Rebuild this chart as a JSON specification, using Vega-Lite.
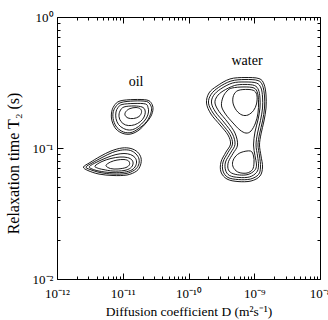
{
"$schema": "https://vega.github.io/schema/vega-lite/v6.json",
"width": 263, "height": 262,
"autosize": "none",
"padding": {"left": 57, "top": 17, "right": 8, "bottom": 41},
"background": "white",
"config": {"view": {"stroke": "black", "strokeWidth": 1}, "font": "Liberation Serif"},
"datasets": {
"contours": [
{"contour":"A5","i":0,"logD":-11.042,"logT2":-0.641},{"contour":"A5","i":1,"logD":-10.829,"logT2":-0.630},{"contour":"A5","i":2,"logD":-10.631,"logT2":-0.634},{"contour":"A5","i":3,"logD":-10.562,"logT2":-0.660},{"contour":"A5","i":4,"logD":-10.540,"logT2":-0.702},{"contour":"A5","i":5,"logD":-10.570,"logT2":-0.756},{"contour":"A5","i":6,"logD":-10.646,"logT2":-0.809},{"contour":"A5","i":7,"logD":-10.753,"logT2":-0.863},{"contour":"A5","i":8,"logD":-10.875,"logT2":-0.893},{"contour":"A5","i":9,"logD":-10.996,"logT2":-0.889},{"contour":"A5","i":10,"logD":-11.103,"logT2":-0.855},{"contour":"A5","i":11,"logD":-11.163,"logT2":-0.794},{"contour":"A5","i":12,"logD":-11.171,"logT2":-0.733},{"contour":"A5","i":13,"logD":-11.133,"logT2":-0.679},
{"contour":"A4","i":0,"logD":-11.027,"logT2":-0.653},{"contour":"A4","i":1,"logD":-10.829,"logT2":-0.641},{"contour":"A4","i":2,"logD":-10.639,"logT2":-0.645},{"contour":"A4","i":3,"logD":-10.578,"logT2":-0.672},{"contour":"A4","i":4,"logD":-10.562,"logT2":-0.710},{"contour":"A4","i":5,"logD":-10.593,"logT2":-0.760},{"contour":"A4","i":6,"logD":-10.654,"logT2":-0.809},{"contour":"A4","i":7,"logD":-10.768,"logT2":-0.855},{"contour":"A4","i":8,"logD":-10.875,"logT2":-0.882},{"contour":"A4","i":9,"logD":-10.988,"logT2":-0.878},{"contour":"A4","i":10,"logD":-11.087,"logT2":-0.844},{"contour":"A4","i":11,"logD":-11.140,"logT2":-0.790},{"contour":"A4","i":12,"logD":-11.148,"logT2":-0.733},{"contour":"A4","i":13,"logD":-11.110,"logT2":-0.687},
{"contour":"A3","i":0,"logD":-11.011,"logT2":-0.668},{"contour":"A3","i":1,"logD":-10.829,"logT2":-0.660},{"contour":"A3","i":2,"logD":-10.654,"logT2":-0.664},{"contour":"A3","i":3,"logD":-10.616,"logT2":-0.691},{"contour":"A3","i":4,"logD":-10.608,"logT2":-0.725},{"contour":"A3","i":5,"logD":-10.639,"logT2":-0.771},{"contour":"A3","i":6,"logD":-10.715,"logT2":-0.817},{"contour":"A3","i":7,"logD":-10.806,"logT2":-0.851},{"contour":"A3","i":8,"logD":-10.897,"logT2":-0.863},{"contour":"A3","i":9,"logD":-10.988,"logT2":-0.851},{"contour":"A3","i":10,"logD":-11.064,"logT2":-0.821},{"contour":"A3","i":11,"logD":-11.103,"logT2":-0.775},{"contour":"A3","i":12,"logD":-11.103,"logT2":-0.725},{"contour":"A3","i":13,"logD":-11.072,"logT2":-0.691},
{"contour":"A2","i":0,"logD":-10.981,"logT2":-0.687},{"contour":"A2","i":1,"logD":-10.829,"logT2":-0.679},{"contour":"A2","i":2,"logD":-10.707,"logT2":-0.687},{"contour":"A2","i":3,"logD":-10.662,"logT2":-0.710},{"contour":"A2","i":4,"logD":-10.662,"logT2":-0.744},{"contour":"A2","i":5,"logD":-10.699,"logT2":-0.782},{"contour":"A2","i":6,"logD":-10.775,"logT2":-0.813},{"contour":"A2","i":7,"logD":-10.867,"logT2":-0.828},{"contour":"A2","i":8,"logD":-10.958,"logT2":-0.824},{"contour":"A2","i":9,"logD":-11.027,"logT2":-0.798},{"contour":"A2","i":10,"logD":-11.057,"logT2":-0.760},{"contour":"A2","i":11,"logD":-11.042,"logT2":-0.718},
{"contour":"A1","i":0,"logD":-10.951,"logT2":-0.721},{"contour":"A1","i":1,"logD":-10.890,"logT2":-0.699},{"contour":"A1","i":2,"logD":-10.798,"logT2":-0.691},{"contour":"A1","i":3,"logD":-10.730,"logT2":-0.702},{"contour":"A1","i":4,"logD":-10.715,"logT2":-0.729},{"contour":"A1","i":5,"logD":-10.753,"logT2":-0.760},{"contour":"A1","i":6,"logD":-10.836,"logT2":-0.775},{"contour":"A1","i":7,"logD":-10.920,"logT2":-0.771},{"contour":"A1","i":8,"logD":-10.966,"logT2":-0.748},
{"contour":"B5","i":0,"logD":-11.597,"logT2":-1.145},{"contour":"B5","i":1,"logD":-11.498,"logT2":-1.111},{"contour":"B5","i":2,"logD":-11.346,"logT2":-1.065},{"contour":"B5","i":3,"logD":-11.179,"logT2":-1.023},{"contour":"B5","i":4,"logD":-11.011,"logT2":-1.000},{"contour":"B5","i":5,"logD":-10.875,"logT2":-1.004},{"contour":"B5","i":6,"logD":-10.775,"logT2":-1.031},{"contour":"B5","i":7,"logD":-10.722,"logT2":-1.076},{"contour":"B5","i":8,"logD":-10.730,"logT2":-1.130},{"contour":"B5","i":9,"logD":-10.790,"logT2":-1.176},{"contour":"B5","i":10,"logD":-10.935,"logT2":-1.206},{"contour":"B5","i":11,"logD":-11.148,"logT2":-1.210},{"contour":"B5","i":12,"logD":-11.361,"logT2":-1.199},{"contour":"B5","i":13,"logD":-11.529,"logT2":-1.172},
{"contour":"B4","i":0,"logD":-11.559,"logT2":-1.145},{"contour":"B4","i":1,"logD":-11.468,"logT2":-1.115},{"contour":"B4","i":2,"logD":-11.316,"logT2":-1.073},{"contour":"B4","i":3,"logD":-11.156,"logT2":-1.034},{"contour":"B4","i":4,"logD":-11.003,"logT2":-1.015},{"contour":"B4","i":5,"logD":-10.882,"logT2":-1.019},{"contour":"B4","i":6,"logD":-10.798,"logT2":-1.046},{"contour":"B4","i":7,"logD":-10.753,"logT2":-1.084},{"contour":"B4","i":8,"logD":-10.760,"logT2":-1.130},{"contour":"B4","i":9,"logD":-10.821,"logT2":-1.168},{"contour":"B4","i":10,"logD":-10.951,"logT2":-1.195},{"contour":"B4","i":11,"logD":-11.148,"logT2":-1.199},{"contour":"B4","i":12,"logD":-11.346,"logT2":-1.187},{"contour":"B4","i":13,"logD":-11.498,"logT2":-1.164},
{"contour":"B3","i":0,"logD":-11.506,"logT2":-1.141},{"contour":"B3","i":1,"logD":-11.392,"logT2":-1.107},{"contour":"B3","i":2,"logD":-11.240,"logT2":-1.073},{"contour":"B3","i":3,"logD":-11.103,"logT2":-1.050},{"contour":"B3","i":4,"logD":-10.981,"logT2":-1.042},{"contour":"B3","i":5,"logD":-10.882,"logT2":-1.050},{"contour":"B3","i":6,"logD":-10.814,"logT2":-1.073},{"contour":"B3","i":7,"logD":-10.790,"logT2":-1.107},{"contour":"B3","i":8,"logD":-10.814,"logT2":-1.145},{"contour":"B3","i":9,"logD":-10.882,"logT2":-1.172},{"contour":"B3","i":10,"logD":-11.011,"logT2":-1.187},{"contour":"B3","i":11,"logD":-11.194,"logT2":-1.187},{"contour":"B3","i":12,"logD":-11.361,"logT2":-1.176},{"contour":"B3","i":13,"logD":-11.468,"logT2":-1.160},
{"contour":"B2","i":0,"logD":-11.422,"logT2":-1.137},{"contour":"B2","i":1,"logD":-11.316,"logT2":-1.103},{"contour":"B2","i":2,"logD":-11.179,"logT2":-1.080},{"contour":"B2","i":3,"logD":-11.042,"logT2":-1.069},{"contour":"B2","i":4,"logD":-10.928,"logT2":-1.073},{"contour":"B2","i":5,"logD":-10.859,"logT2":-1.092},{"contour":"B2","i":6,"logD":-10.844,"logT2":-1.122},{"contour":"B2","i":7,"logD":-10.882,"logT2":-1.153},{"contour":"B2","i":8,"logD":-10.981,"logT2":-1.172},{"contour":"B2","i":9,"logD":-11.148,"logT2":-1.176},{"contour":"B2","i":10,"logD":-11.300,"logT2":-1.164},{"contour":"B2","i":11,"logD":-11.384,"logT2":-1.153},
{"contour":"B1","i":0,"logD":-11.255,"logT2":-1.134},{"contour":"B1","i":1,"logD":-11.186,"logT2":-1.107},{"contour":"B1","i":2,"logD":-11.087,"logT2":-1.092},{"contour":"B1","i":3,"logD":-10.981,"logT2":-1.088},{"contour":"B1","i":4,"logD":-10.912,"logT2":-1.099},{"contour":"B1","i":5,"logD":-10.897,"logT2":-1.126},{"contour":"B1","i":6,"logD":-10.951,"logT2":-1.149},{"contour":"B1","i":7,"logD":-11.072,"logT2":-1.160},{"contour":"B1","i":8,"logD":-11.186,"logT2":-1.157},
{"contour":"W7","i":0,"logD":-9.369,"logT2":-0.473},{"contour":"W7","i":1,"logD":-9.141,"logT2":-0.462},{"contour":"W7","i":2,"logD":-8.928,"logT2":-0.470},{"contour":"W7","i":3,"logD":-8.852,"logT2":-0.512},{"contour":"W7","i":4,"logD":-8.821,"logT2":-0.595},{"contour":"W7","i":5,"logD":-8.821,"logT2":-0.695},{"contour":"W7","i":6,"logD":-8.852,"logT2":-0.794},{"contour":"W7","i":7,"logD":-8.897,"logT2":-0.893},{"contour":"W7","i":8,"logD":-8.920,"logT2":-0.977},{"contour":"W7","i":9,"logD":-8.897,"logT2":-1.061},{"contour":"W7","i":10,"logD":-8.874,"logT2":-1.145},{"contour":"W7","i":11,"logD":-8.913,"logT2":-1.214},{"contour":"W7","i":12,"logD":-9.049,"logT2":-1.252},{"contour":"W7","i":13,"logD":-9.247,"logT2":-1.256},{"contour":"W7","i":14,"logD":-9.414,"logT2":-1.237},{"contour":"W7","i":15,"logD":-9.506,"logT2":-1.183},{"contour":"W7","i":16,"logD":-9.506,"logT2":-1.107},{"contour":"W7","i":17,"logD":-9.430,"logT2":-1.031},{"contour":"W7","i":18,"logD":-9.361,"logT2":-0.970},{"contour":"W7","i":19,"logD":-9.399,"logT2":-0.901},{"contour":"W7","i":20,"logD":-9.521,"logT2":-0.824},{"contour":"W7","i":21,"logD":-9.658,"logT2":-0.741},{"contour":"W7","i":22,"logD":-9.726,"logT2":-0.657},{"contour":"W7","i":23,"logD":-9.688,"logT2":-0.580},{"contour":"W7","i":24,"logD":-9.567,"logT2":-0.527},
{"contour":"W6","i":0,"logD":-9.354,"logT2":-0.489},{"contour":"W6","i":1,"logD":-9.141,"logT2":-0.477},{"contour":"W6","i":2,"logD":-8.943,"logT2":-0.485},{"contour":"W6","i":3,"logD":-8.874,"logT2":-0.523},{"contour":"W6","i":4,"logD":-8.844,"logT2":-0.603},{"contour":"W6","i":5,"logD":-8.844,"logT2":-0.695},{"contour":"W6","i":6,"logD":-8.874,"logT2":-0.794},{"contour":"W6","i":7,"logD":-8.920,"logT2":-0.893},{"contour":"W6","i":8,"logD":-8.943,"logT2":-0.977},{"contour":"W6","i":9,"logD":-8.920,"logT2":-1.061},{"contour":"W6","i":10,"logD":-8.905,"logT2":-1.145},{"contour":"W6","i":11,"logD":-8.935,"logT2":-1.202},{"contour":"W6","i":12,"logD":-9.057,"logT2":-1.237},{"contour":"W6","i":13,"logD":-9.239,"logT2":-1.241},{"contour":"W6","i":14,"logD":-9.399,"logT2":-1.225},{"contour":"W6","i":15,"logD":-9.475,"logT2":-1.176},{"contour":"W6","i":16,"logD":-9.475,"logT2":-1.107},{"contour":"W6","i":17,"logD":-9.399,"logT2":-1.034},{"contour":"W6","i":18,"logD":-9.331,"logT2":-0.970},{"contour":"W6","i":19,"logD":-9.369,"logT2":-0.897},{"contour":"W6","i":20,"logD":-9.490,"logT2":-0.817},{"contour":"W6","i":21,"logD":-9.627,"logT2":-0.733},{"contour":"W6","i":22,"logD":-9.696,"logT2":-0.657},{"contour":"W6","i":23,"logD":-9.658,"logT2":-0.592},{"contour":"W6","i":24,"logD":-9.544,"logT2":-0.538},
{"contour":"W5","i":0,"logD":-9.331,"logT2":-0.504},{"contour":"W5","i":1,"logD":-9.141,"logT2":-0.496},{"contour":"W5","i":2,"logD":-8.966,"logT2":-0.504},{"contour":"W5","i":3,"logD":-8.897,"logT2":-0.542},{"contour":"W5","i":4,"logD":-8.874,"logT2":-0.611},{"contour":"W5","i":5,"logD":-8.874,"logT2":-0.695},{"contour":"W5","i":6,"logD":-8.905,"logT2":-0.790},{"contour":"W5","i":7,"logD":-8.950,"logT2":-0.886},{"contour":"W5","i":8,"logD":-8.973,"logT2":-0.977},{"contour":"W5","i":9,"logD":-8.950,"logT2":-1.061},{"contour":"W5","i":10,"logD":-8.935,"logT2":-1.137},{"contour":"W5","i":11,"logD":-8.966,"logT2":-1.187},{"contour":"W5","i":12,"logD":-9.072,"logT2":-1.221},{"contour":"W5","i":13,"logD":-9.232,"logT2":-1.225},{"contour":"W5","i":14,"logD":-9.376,"logT2":-1.210},{"contour":"W5","i":15,"logD":-9.437,"logT2":-1.168},{"contour":"W5","i":16,"logD":-9.437,"logT2":-1.107},{"contour":"W5","i":17,"logD":-9.361,"logT2":-1.038},{"contour":"W5","i":18,"logD":-9.293,"logT2":-0.973},{"contour":"W5","i":19,"logD":-9.331,"logT2":-0.893},{"contour":"W5","i":20,"logD":-9.452,"logT2":-0.809},{"contour":"W5","i":21,"logD":-9.589,"logT2":-0.725},{"contour":"W5","i":22,"logD":-9.650,"logT2":-0.657},{"contour":"W5","i":23,"logD":-9.619,"logT2":-0.599},{"contour":"W5","i":24,"logD":-9.513,"logT2":-0.550},
{"contour":"W4","i":0,"logD":-9.300,"logT2":-0.523},{"contour":"W4","i":1,"logD":-9.141,"logT2":-0.515},{"contour":"W4","i":2,"logD":-8.996,"logT2":-0.523},{"contour":"W4","i":3,"logD":-8.935,"logT2":-0.557},{"contour":"W4","i":4,"logD":-8.913,"logT2":-0.618},{"contour":"W4","i":5,"logD":-8.913,"logT2":-0.695},{"contour":"W4","i":6,"logD":-8.943,"logT2":-0.786},{"contour":"W4","i":7,"logD":-8.989,"logT2":-0.878},{"contour":"W4","i":8,"logD":-9.011,"logT2":-0.977},{"contour":"W4","i":9,"logD":-8.989,"logT2":-1.057},{"contour":"W4","i":10,"logD":-8.966,"logT2":-1.130},{"contour":"W4","i":11,"logD":-8.996,"logT2":-1.172},{"contour":"W4","i":12,"logD":-9.095,"logT2":-1.202},{"contour":"W4","i":13,"logD":-9.224,"logT2":-1.206},{"contour":"W4","i":14,"logD":-9.346,"logT2":-1.191},{"contour":"W4","i":15,"logD":-9.399,"logT2":-1.157},{"contour":"W4","i":16,"logD":-9.391,"logT2":-1.103},{"contour":"W4","i":17,"logD":-9.323,"logT2":-1.042},{"contour":"W4","i":18,"logD":-9.254,"logT2":-0.977},{"contour":"W4","i":19,"logD":-9.293,"logT2":-0.886},{"contour":"W4","i":20,"logD":-9.406,"logT2":-0.802},{"contour":"W4","i":21,"logD":-9.536,"logT2":-0.721},{"contour":"W4","i":22,"logD":-9.597,"logT2":-0.657},{"contour":"W4","i":23,"logD":-9.567,"logT2":-0.607},{"contour":"W4","i":24,"logD":-9.475,"logT2":-0.565},
{"contour":"U2","i":0,"logD":-9.338,"logT2":-0.542},{"contour":"U2","i":1,"logD":-9.156,"logT2":-0.534},{"contour":"U2","i":2,"logD":-9.004,"logT2":-0.542},{"contour":"U2","i":3,"logD":-8.950,"logT2":-0.580},{"contour":"U2","i":4,"logD":-8.935,"logT2":-0.649},{"contour":"U2","i":5,"logD":-8.943,"logT2":-0.733},{"contour":"U2","i":6,"logD":-8.981,"logT2":-0.809},{"contour":"U2","i":7,"logD":-9.049,"logT2":-0.870},{"contour":"U2","i":8,"logD":-9.125,"logT2":-0.886},{"contour":"U2","i":9,"logD":-9.217,"logT2":-0.863},{"contour":"U2","i":10,"logD":-9.323,"logT2":-0.809},{"contour":"U2","i":11,"logD":-9.437,"logT2":-0.741},{"contour":"U2","i":12,"logD":-9.498,"logT2":-0.679},{"contour":"U2","i":13,"logD":-9.475,"logT2":-0.611},{"contour":"U2","i":14,"logD":-9.414,"logT2":-0.565},
{"contour":"U1","i":0,"logD":-9.247,"logT2":-0.561},{"contour":"U1","i":1,"logD":-9.095,"logT2":-0.553},{"contour":"U1","i":2,"logD":-8.996,"logT2":-0.565},{"contour":"U1","i":3,"logD":-8.958,"logT2":-0.603},{"contour":"U1","i":4,"logD":-8.966,"logT2":-0.664},{"contour":"U1","i":5,"logD":-9.011,"logT2":-0.714},{"contour":"U1","i":6,"logD":-9.095,"logT2":-0.748},{"contour":"U1","i":7,"logD":-9.186,"logT2":-0.748},{"contour":"U1","i":8,"logD":-9.270,"logT2":-0.714},{"contour":"U1","i":9,"logD":-9.323,"logT2":-0.657},{"contour":"U1","i":10,"logD":-9.315,"logT2":-0.599},
{"contour":"L1","i":0,"logD":-9.057,"logT2":-1.023},{"contour":"L1","i":1,"logD":-9.011,"logT2":-1.061},{"contour":"L1","i":2,"logD":-9.004,"logT2":-1.115},{"contour":"L1","i":3,"logD":-9.026,"logT2":-1.164},{"contour":"L1","i":4,"logD":-9.110,"logT2":-1.191},{"contour":"L1","i":5,"logD":-9.232,"logT2":-1.187},{"contour":"L1","i":6,"logD":-9.308,"logT2":-1.157},{"contour":"L1","i":7,"logD":-9.331,"logT2":-1.115},{"contour":"L1","i":8,"logD":-9.293,"logT2":-1.069},{"contour":"L1","i":9,"logD":-9.202,"logT2":-1.034}
],
"labels": [
{"label":"oil","logD":-10.798,"logT2":-0.496},
{"label":"water","logD":-9.110,"logT2":-0.336}
]
},
"resolve": {"axis": {"x": "independent", "y": "independent"}},
"layer": [
{
"data": {"name": "contours"},
"mark": {"type": "line", "interpolate": "cardinal-closed", "stroke": "black", "strokeWidth": 0.9},
"encoding": {
"x": {"field": "logD", "type": "quantitative", "scale": {"domain": [-12, -8], "nice": false, "zero": false},
"axis": {"orient": "bottom", "grid": false, "domain": false,
"values": [-12,-11.699,-11.523,-11.398,-11.301,-11.222,-11.155,-11.097,-11.046,-11,-10.699,-10.523,-10.398,-10.301,-10.222,-10.155,-10.097,-10.046,-10,-9.699,-9.523,-9.398,-9.301,-9.222,-9.155,-9.097,-9.046,-9,-8.699,-8.523,-8.398,-8.301,-8.222,-8.155,-8.097,-8.046,-8],
"labelExpr": "datum.value == -12 ? '10⁻¹²' : datum.value == -11 ? '10⁻¹¹' : datum.value == -10 ? '10⁻¹⁰' : datum.value == -9 ? '10⁻⁹' : datum.value == -8 ? '10⁻⁸' : ''",
"tickSize": {"condition": {"test": "datum.value == round(datum.value)", "value": -6}, "value": -3},
"tickColor": "black", "labelColor": "black", "labelFont": "Liberation Serif", "labelFontSize": 13,
"labelPadding": 14, "labelOverlap": false, "labelFlush": false,
"title": "Diffusion coefficient D (m²s⁻¹)", "titleFont": "Liberation Serif", "titleFontSize": 13.5, "titleFontWeight": "normal", "titleColor": "black",
"titleY": 32, "titleBaseline": "middle"}},
"y": {"field": "logT2", "type": "quantitative", "scale": {"domain": [-2, 0], "nice": false, "zero": false},
"axis": {"orient": "left", "grid": false, "domain": false,
"values": [-2,-1.699,-1.523,-1.398,-1.301,-1.222,-1.155,-1.097,-1.046,-1,-0.699,-0.523,-0.398,-0.301,-0.222,-0.155,-0.097,-0.046,0],
"labelExpr": "datum.value == -2 ? '10⁻²' : datum.value == -1 ? '10⁻¹' : datum.value == 0 ? '10⁰' : ''",
"tickSize": {"condition": {"test": "datum.value == round(datum.value)", "value": -6}, "value": -3},
"tickColor": "black", "labelColor": "black", "labelFont": "Liberation Serif", "labelFontSize": 13,
"labelPadding": 10, "labelOverlap": false, "labelFlush": false,
"title": "Relaxation time T₂ (s)", "titleFont": "Liberation Serif", "titleFontSize": 16, "titleFontWeight": "normal", "titleColor": "black",
"titleX": -44, "titleY": 146, "titleBaseline": "middle"}},
"detail": {"field": "contour"},
"order": {"field": "i", "type": "quantitative"}
}
},
{
"data": {"name": "labels"},
"mark": {"type": "text", "font": "Liberation Serif", "fontSize": 14, "align": "center", "baseline": "middle", "color": "black"},
"encoding": {
"x": {"field": "logD", "type": "quantitative",
"axis": {"orient": "top", "grid": false, "domain": false, "labels": false, "title": null,
"values": [-12,-11.699,-11.523,-11.398,-11.301,-11.222,-11.155,-11.097,-11.046,-11,-10.699,-10.523,-10.398,-10.301,-10.222,-10.155,-10.097,-10.046,-10,-9.699,-9.523,-9.398,-9.301,-9.222,-9.155,-9.097,-9.046,-9,-8.699,-8.523,-8.398,-8.301,-8.222,-8.155,-8.097,-8.046,-8],
"tickSize": {"condition": {"test": "datum.value == round(datum.value)", "value": -6}, "value": -3},
"tickColor": "black"}},
"y": {"field": "logT2", "type": "quantitative",
"axis": {"orient": "right", "grid": false, "domain": false, "labels": false, "title": null,
"values": [-2,-1.699,-1.523,-1.398,-1.301,-1.222,-1.155,-1.097,-1.046,-1,-0.699,-0.523,-0.398,-0.301,-0.222,-0.155,-0.097,-0.046,0],
"tickSize": {"condition": {"test": "datum.value == round(datum.value)", "value": -6}, "value": -3},
"tickColor": "black"}},
"text": {"field": "label"}
}
}
]
}
